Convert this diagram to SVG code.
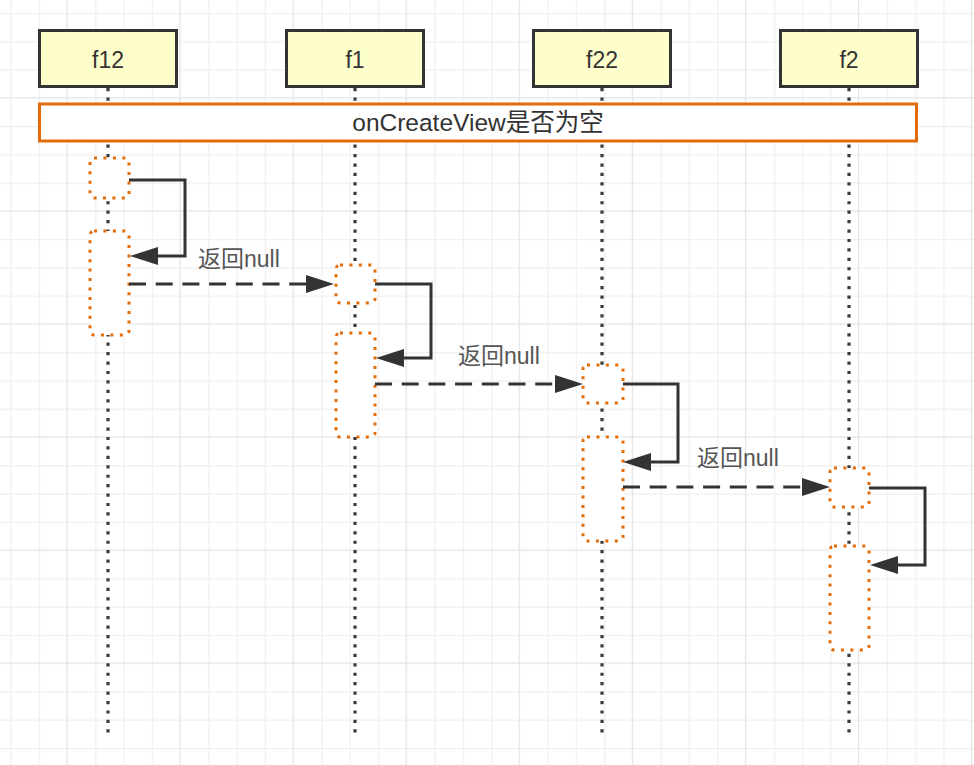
<svg xmlns="http://www.w3.org/2000/svg" width="974" height="765" viewBox="0 0 974 765">
<defs>
<pattern id="grid" patternUnits="userSpaceOnUse" x="66.4" y="97.2" width="113.08" height="113.08">
<path d="M29.47,0V113.08M57.74,0V113.08M86.01,0V113.08M0,29.47H113.08M0,57.74H113.08M0,86.01H113.08" stroke="#efefef" stroke-width="1.2" fill="none"/>
<path d="M0.6,0V113.08M0,0.6H113.08" stroke="#e3e3e3" stroke-width="1.2" fill="none"/>
</pattern>
<marker id="arrow" markerUnits="userSpaceOnUse" viewBox="0 0 28 18" refX="1" refY="9" markerWidth="28" markerHeight="18" orient="auto">
<path d="M0,0L28,9L0,18z" fill="#333"/>
</marker>
<style>
.head{fill:#fefecb;stroke:#333;stroke-width:3}
.hl{font-family:"Liberation Sans","Noto Sans CJK SC",sans-serif;font-size:23px;fill:#333;text-anchor:middle}
.lbl{font-family:"Liberation Sans","Noto Sans CJK SC",sans-serif;font-size:23px;fill:#555}
.life{stroke:#3a3a3a;stroke-width:3.2;stroke-dasharray:3.2 6.23;fill:none}
.act{fill:#fff;stroke:#e36c0a;stroke-width:3;stroke-dasharray:3 6.43}
.self{fill:none;stroke:#333;stroke-width:3;marker-end:url(#arrow)}
.ret{fill:none;stroke:#333;stroke-width:3;stroke-dasharray:17 9.7;marker-end:url(#arrow)}
</style>
</defs>
<rect width="974" height="765" fill="#fff"/>
<rect width="974" height="765" fill="url(#grid)"/>
<g id="lifelines">
<path class="life" d="M108,88V738"/>
<path class="life" d="M355,88V738"/>
<path class="life" d="M602,88V738"/>
<path class="life" d="M849,88V738"/>
</g>
<g id="f12"><rect class="head" x="39.5" y="30.5" width="137" height="56"/><text class="hl" x="108" y="68">f12</text></g>
<g id="f1"><rect class="head" x="286.5" y="30.5" width="137" height="56"/><text class="hl" x="355" y="68">f1</text></g>
<g id="f22"><rect class="head" x="533.5" y="30.5" width="137" height="56"/><text class="hl" x="602" y="68">f22</text></g>
<g id="f2"><rect class="head" x="780.5" y="30.5" width="137" height="56"/><text class="hl" x="849" y="68">f2</text></g>
<g id="condition"><rect x="39.5" y="104" width="877" height="37" fill="#fff" stroke="#e36c0a" stroke-width="3"/><text class="hl" x="478" y="131" style="font-size:24.5px">onCreateView是否为空</text></g>
<g id="activations">
<rect class="act" x="90" y="158" width="39" height="40" rx="4"/>
<rect class="act" x="90" y="231" width="39" height="104" rx="4"/>
<rect class="act" x="336" y="265" width="39" height="38" rx="4"/>
<rect class="act" x="336" y="333" width="39" height="104" rx="4"/>
<rect class="act" x="583" y="365" width="40" height="38" rx="4"/>
<rect class="act" x="583" y="437" width="40" height="104" rx="4"/>
<rect class="act" x="830" y="468" width="39" height="39" rx="4"/>
<rect class="act" x="830" y="546" width="39" height="104" rx="4"/>
</g>
<g id="connectors">
<path class="self" d="M129,180H185V256H157"/>
<path class="ret" d="M129,284H307"/>
<path class="self" d="M375,284H431V358H403"/>
<path class="ret" d="M375,384H556"/>
<path class="self" d="M623,384H678V462H650"/>
<path class="ret" d="M623,487H803"/>
<path class="self" d="M869,488H925V565H897"/>
<text class="lbl" x="198" y="267">返回null</text>
<text class="lbl" x="458" y="364">返回null</text>
<text class="lbl" x="697" y="466">返回null</text>
</g>
</svg>
